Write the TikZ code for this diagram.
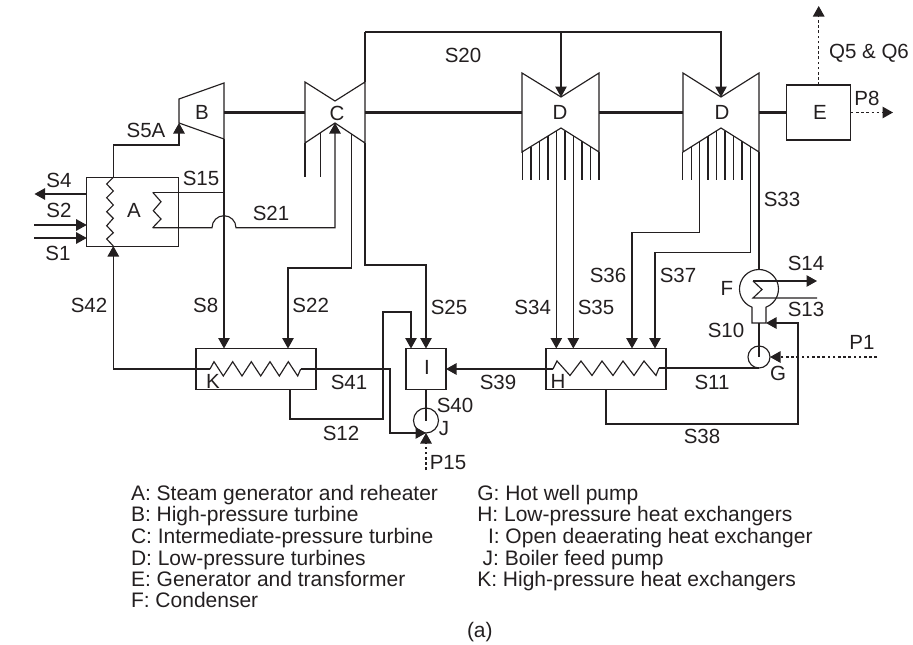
\documentclass[tikz,border=0pt]{standalone}
\usepackage{fontspec}
\setmainfont{Liberation Sans}
\usetikzlibrary{arrows.meta,calc}
\definecolor{ink}{HTML}{231F20}
\tikzset{
  pipe/.style={draw=ink,line width=1.15pt,line join=miter},
  flow/.style={pipe,-{Triangle[length=10.5pt,width=11.5pt]}},
  dotline/.style={draw=ink,line width=1.15pt,dash pattern=on 2.6pt off 2.6pt},
  dotflow/.style={dotline,-{Triangle[length=10.5pt,width=11.5pt,sep=0pt]}},
  shaft/.style={draw=ink,line width=3pt},
  box/.style={draw=ink,line width=1.15pt,rectangle,inner sep=0pt,outer sep=0pt},
  pump/.style={draw=ink,line width=1.15pt,circle,inner sep=0pt,outer sep=0pt,minimum size=23pt},
  lab/.style={inner sep=0pt,outer sep=0pt,text=ink,text height=15pt,text depth=0pt,font=\fontsize{20.5}{20.5}\selectfont},
  legendtext/.style={inner sep=0pt,outer sep=0pt,anchor=base west,text=ink,font=\fontsize{21}{21}\selectfont},
}
\begin{document}
\begin{tikzpicture}[x=1pt,y=-1pt]
\useasboundingbox (0,0) rectangle (913,645);

% ---- equipment ----
\node[box,minimum width=92pt,minimum height=69pt] (A) at (132.7,211.6) {};
\node[box,minimum width=64pt,minimum height=55pt] (E) at (818.7,112.5) {};
\node[box,minimum width=120pt,minimum height=41pt] (H) at (606,369) {};
\node[box,minimum width=40pt,minimum height=41pt] (I) at (426,369) {};
\node[box,minimum width=120pt,minimum height=41pt] (K) at (256,369) {};
\node[pump,minimum size=22pt] (G) at (759,357) {};
\node[pump,minimum size=25pt] (J) at (426,420.5) {};

% turbines
\draw[pipe] (179,99) -- (224,83) -- (224,139) -- (179,123) -- cycle;
\draw[pipe] (305,82) -- (335,101) -- (365,82) -- (365,143) -- (335,123) -- (305,143) -- cycle;
\draw[pipe] (522,73) -- (561,97) -- (599,73) -- (599,152) -- (561,128) -- (522,152) -- cycle;
\draw[pipe] (683,73) -- (721,97) -- (759,73) -- (759,152) -- (721,128) -- (683,152) -- cycle;

% condenser
\draw[pipe] (752,323) -- (752,307.2) arc[start angle=249,end angle=-69,radius=19.5pt] -- (766,323) -- cycle;

% named connection points
\coordinate (Btop) at (113.3,177.3);
\coordinate (Abot) at (113.3,246);
\coordinate (Bin) at (179,123);
\coordinate (Bout) at (224,139);
\coordinate (Cin) at (335,123);
\coordinate (Cout1) at (351.7,134);
\coordinate (Cout2) at (365,143);
\coordinate (Dt1) at (561,97);
\coordinate (Dt2) at (721,97);
\coordinate (Ftop) at (759,269.5);
\coordinate (Fbot) at (759,323);
\coordinate (Fneck) at (766,323);
\coordinate (Hin) at (553,369);
\coordinate (Hout) at (659,368);
\coordinate (Kin) at (210,369);
\coordinate (Kout) at (300.7,369);
\coordinate (Sfour) at (34.5,194);
\coordinate (Stwo) at (34,225);
\coordinate (Sone) at (34,238);
\coordinate (Qtip) at (818.7,6);
\coordinate (Ptip) at (893,112.5);
\coordinate (Ponefree) at (877,357);
\coordinate (Pfifteen) at (426,470);
\coordinate (Sfourteen) at (817,281);
\coordinate (Sthirteen) at (817,298);
\coordinate (RA) at (152.7,192.3);
\coordinate (RB) at (152.7,227.7);

% shaft
\draw[shaft] (224,112.5) -- (305,112.5);
\draw[shaft] (365,112.5) -- (522,112.5);
\draw[shaft] (599,112.5) -- (683,112.5);
\draw[shaft] (759,112.5) -- (E.west);

% turbine outlets
\draw[pipe] (305,143) -- (305,177);
\draw[pipe] (320.5,132.7) -- (320.5,177);
\foreach \x/\y in {522.3/152,531/146.5,539.3/141.3,548/136,565/130.5,582/141.3,590.3/146.5,599/152,
                   682.7/152,691.3/146.7,708/136.4,716.7/131,725/130.5,733.7/136,742/141.4}
  \draw[pipe] (\x,\y) -- (\x,180);

% coils
\draw[pipe] (Btop) -- (106.7,184) -- (113.3,191) -- (106.7,197.7) -- (113.3,205) -- (106.7,211.7) -- (113.3,218.3) -- (106.7,225.7) -- (113.3,232.7) -- (106.7,239) -- (Abot);
\draw[pipe] (RA) -- (161,201.7) -- (153.3,210.7) -- (161,219) -- (RB);
\draw[pipe] (Hin) -- (557,361) -- (570,375.5) -- (581,361) -- (592,375.5) -- (602,361) -- (613,375.5) -- (623,361) -- (634,375.5) -- (644,361) -- (656,375.5) -- (Hout);
\draw[pipe] (Kin) -- (214,361.7) -- (223.3,376) -- (232.7,361.7) -- (242,376) -- (251.3,361.7) -- (260.7,376) -- (270,361.7) -- (279.3,376) -- (288.3,361.7) -- (297.7,376) -- (Kout);

% streams
\draw[flow] (Btop) -- (113.3,145) -- (179,145) -- (Bin);
\draw[flow] (A.west |- Sfour) -- (Sfour);
\draw[flow] (Stwo) -- (A.west |- Stwo);
\draw[flow] (Sone) -- (A.west |- Sone);
\draw[flow] (Kin) -- (113.3,369) -- (Abot);
\draw[flow] (Bout) -- (K.north -| Bout);
\draw[pipe] (Bout |- RA) -- (RA);
\draw[flow] (RB) -- (212,227.7) arc[start angle=180,end angle=0,radius=12pt] -- (335,227.7) -- (Cin);
\draw[flow] (Cout1) -- (351.7,268) -- (288,268) -- (K.north -| 288,0);
\draw[flow] (365,32) -- (721,32) -- (Dt2);
\draw[flow] (Dt1 |- 0,32) -- (Dt1);
\draw[pipe] (365,32) -- (365,82);
\draw[flow] (Cout2) -- (365,265) -- (426,265) -- (I.north);
\draw[flow] (290,389.5) -- (290,419) -- (383,419) -- (383,312) -- (411,312) -- (411,348.5);
\draw[flow] (Kout) -- (390,369) -- (390,433) -- (J.south);
\draw[pipe] (I.south) -- (J.center);
\draw[flow] (Hin) -- (I.east);
\draw[flow] (556.3,131) -- (556.3,348.5);
\draw[flow] (573.3,135.8) -- (573.3,348.5);
\draw[flow] (699.7,141.5) -- (699.7,232.7) -- (632,232.7) -- (632,348.5);
\draw[flow] (750.7,147) -- (750.7,252.7) -- (655,252.7) -- (655,348.5);
\draw[pipe] (759,152) -- (Ftop);
\draw[pipe] (Fbot) -- (G.center);
\draw[pipe] (Hout) -- (G.south);
\draw[flow] (606,389.5) -- (606,424) -- (798,424) -- (798,323) -- (Fneck);
\draw[flow] (753,281) -- (Sfourteen);
\draw[pipe] (753,281) -- (762,289.5) -- (753,298) -- (Sthirteen);

% dotted energy lines
\draw[dotflow] (Ponefree) -- (G.east);
\draw[dotflow] (Pfifteen) -- (J.south);
\draw[dotflow] (E.north) -- (Qtip);
\draw[dotflow] (E.east) -- (Ptip);

% labels
\node[lab] (lA) at (134,210) {A};
\node[lab] (lB) at (202,112) {B};
\node[lab] (lC) at (337,113) {C};
\node[lab] (lDa) at (560,112) {D};
\node[lab] (lDb) at (722,112) {D};
\node[lab] (lE) at (820,112) {E};
\node[lab] (lF) at (727,288) {F};
\node[lab] (lG) at (778,373) {G};
\node[lab] (lH) at (558,381) {H};
\node[lab] (lI) at (427,367) {I};
\node[lab] (lJ) at (444,428) {J};
\node[lab] (lK) at (213,381) {K};
\node[lab] (s1) at (58,253) {S1};
\node[lab] (s2) at (59,210) {S2};
\node[lab] (s4) at (59,180) {S4};
\node[lab] (s5a) at (146,130) {S5A};
\node[lab] (s8) at (205.7,305) {S8};
\node[lab] (s10) at (726,330) {S10};
\node[lab] (s11) at (712,382) {S11};
\node[lab] (s12) at (341,433) {S12};
\node[lab] (s13) at (806,309) {S13};
\node[lab] (s14) at (806,263) {S14};
\node[lab] (s15) at (201,178) {S15};
\node[lab] (s20) at (463,55) {S20};
\node[lab] (s21) at (271,213) {S21};
\node[lab] (s22) at (310.7,305) {S22};
\node[lab] (s25) at (449,307) {S25};
\node[lab] (s33) at (782,199) {S33};
\node[lab] (s34) at (532.7,306.7) {S34};
\node[lab] (s35) at (596,306.7) {S35};
\node[lab] (s36) at (608,275) {S36};
\node[lab] (s37) at (678,275) {S37};
\node[lab] (s38) at (702,436) {S38};
\node[lab] (s39) at (498,382) {S39};
\node[lab] (s40) at (455,405) {S40};
\node[lab] (s41) at (349,382) {S41};
\node[lab] (s42) at (89,305) {S42};
\node[lab] (p1) at (862,342) {P1};
\node[lab] (p8) at (867,97.7) {P8};
\node[lab] (p15) at (448,462) {P15};
\node[lab] (q56) at (869,51) {Q5 \& Q6};

% legend
\node[legendtext] (la) at (131,500) {A: Steam generator and reheater};
\node[legendtext] (lb) at (131,521.3) {B: High-pressure turbine};
\node[legendtext] (lc) at (131,543) {C: Intermediate-pressure turbine};
\node[legendtext] (ld) at (131,565) {D: Low-pressure turbines};
\node[legendtext] (le) at (131,586) {E: Generator and transformer};
\node[legendtext] (lf) at (131,607.7) {F: Condenser};
\node[legendtext] (lg) at (477.3,500) {G: Hot well pump};
\node[legendtext] (lh) at (477.3,521.3) {H: Low-pressure heat exchangers};
\node[legendtext] (li) at (488,543) {I: Open deaerating heat exchanger};
\node[legendtext] (lj) at (482.7,565) {J: Boiler feed pump};
\node[legendtext] (lkk) at (477.3,586) {K: High-pressure heat exchangers};
\node[legendtext] (cap) at (467,637) {(a)};
\end{tikzpicture}
\end{document}
